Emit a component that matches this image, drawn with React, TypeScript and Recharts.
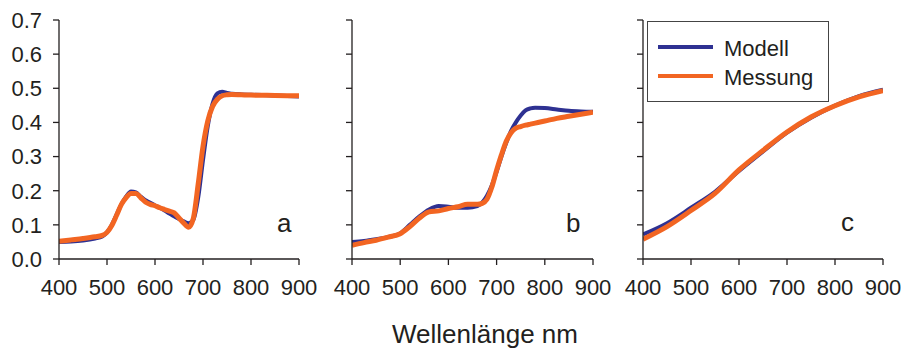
import React from "react";
import { LineChart, Line, XAxis, YAxis, Legend } from "recharts";

// wavelengths (nm) per panel
const wavelengthA = [400, 425, 450, 475, 490, 500, 510, 520, 530, 540, 550, 560, 570, 580, 590, 600, 610, 620, 630, 640, 650, 660, 670, 680, 690, 700, 710, 720, 730, 740, 750, 760, 780, 800, 850, 900];
const modellA = [0.05, 0.051, 0.054, 0.06, 0.066, 0.078, 0.1, 0.13, 0.16, 0.183, 0.198, 0.195, 0.183, 0.172, 0.165, 0.157, 0.15, 0.142, 0.133, 0.125, 0.117, 0.11, 0.105, 0.115, 0.18, 0.29, 0.39, 0.455, 0.485, 0.49, 0.486, 0.484, 0.482, 0.481, 0.479, 0.476];
const messungA = [0.052, 0.056, 0.06, 0.065, 0.069, 0.078, 0.098, 0.128, 0.16, 0.18, 0.192, 0.192, 0.18, 0.167, 0.16, 0.156, 0.15, 0.145, 0.14, 0.135, 0.12, 0.105, 0.093, 0.12, 0.22, 0.33, 0.405, 0.447, 0.468, 0.478, 0.481, 0.482, 0.481, 0.48, 0.479, 0.478];

const wavelengthB = [400, 425, 450, 475, 500, 520, 540, 560, 580, 600, 620, 640, 660, 670, 680, 690, 700, 710, 720, 730, 740, 750, 760, 770, 780, 800, 825, 850, 875, 900];
const modellB = [0.05, 0.053, 0.058, 0.064, 0.075, 0.1, 0.125, 0.145, 0.155, 0.153, 0.15, 0.15, 0.155, 0.165, 0.185, 0.215, 0.255, 0.3, 0.34, 0.375, 0.4, 0.42, 0.435, 0.441, 0.443, 0.442, 0.438, 0.434, 0.432, 0.431];
const messungB = [0.04, 0.048, 0.055, 0.064, 0.074, 0.095, 0.12, 0.138, 0.141, 0.148, 0.153, 0.16, 0.16, 0.163, 0.175, 0.21, 0.26, 0.305, 0.345, 0.37, 0.383, 0.388, 0.392, 0.395, 0.398, 0.404, 0.412, 0.418, 0.424, 0.43];

const wavelengthC = [400, 450, 500, 550, 600, 650, 700, 750, 800, 850, 900];
const modellC = [0.072, 0.105, 0.15, 0.197, 0.258, 0.315, 0.37, 0.414, 0.449, 0.477, 0.496];
const messungC = [0.058, 0.095, 0.142, 0.192, 0.261, 0.318, 0.372, 0.416, 0.449, 0.475, 0.493];

const xTicks = [400, 500, 600, 700, 800, 900];
const yTicks = [0, 0.1, 0.2, 0.3, 0.4, 0.5, 0.6, 0.7];
const seriesNames = ["Modell", "Messung"];
const panelLetters = ["a", "b", "c"];

const BLUE = "#2e3192";
const ORANGE = "#f26522";
const INK = "#231f20";
const FONT = "Arial, 'Liberation Sans', Helvetica, sans-serif";

const toPoints = (xs: number[], ys: number[]) => xs.map((x, i) => ({ x, y: ys[i] }));

const renderLegend = () => (
  <svg width={182} height={81} style={{ display: "block" }}>
    <rect x={0.5} y={0.5} width={181} height={80} fill="#fff" stroke="#444" strokeWidth={1} />
    <line x1={11} x2={66} y1={26} y2={26} stroke={BLUE} strokeWidth={4} />
    <line x1={11} x2={66} y1={55} y2={55} stroke={ORANGE} strokeWidth={4} />
    <text x={77} y={35} fontSize={22} fill={INK} fontFamily={FONT}>{seriesNames[0]}</text>
    <text x={77} y={64} fontSize={22} fill={INK} fontFamily={FONT}>{seriesNames[1]}</text>
  </svg>
);

type PanelProps = {
  left: number;
  width: number;
  axisWidth: number;
  rightMargin: number;
  modell: { x: number; y: number }[];
  messung: { x: number; y: number }[];
  showYLabels: boolean;
  showLegend?: boolean;
};

const Panel: React.FC<PanelProps> = ({ left, width, axisWidth, rightMargin, modell, messung, showYLabels, showLegend }) => (
  <div style={{ position: "absolute", left, top: 0 }}>
    <LineChart width={width} height={299} margin={{ top: 20, right: rightMargin, bottom: 0, left: 0 }}>
      <XAxis
        dataKey="x"
        type="number"
        domain={[400, 900]}
        ticks={xTicks}
        allowDataOverflow
        height={40}
        tickSize={6}
        tickMargin={14}
        stroke={INK}
        strokeWidth={1.3}
        tick={{ fontSize: 22, fill: INK, fontFamily: FONT }}
      />
      <YAxis
        type="number"
        domain={[0, 0.7]}
        ticks={yTicks}
        width={axisWidth}
        tickSize={6}
        tickMargin={11}
        stroke={INK}
        strokeWidth={1.3}
        tickFormatter={(v: number) => (showYLabels ? v.toFixed(1) : "")}
        tick={{ fontSize: 22, fill: INK, fontFamily: FONT }}
      />
      {showLegend && (
        <Legend
          layout="vertical"
          align="center"
          verticalAlign="middle"
          content={renderLegend}
          wrapperStyle={{ left: 47, top: 21, width: 182, height: 81 }}
        />
      )}
      <Line data={modell} dataKey="y" name={seriesNames[0]} type="monotone" stroke={BLUE} strokeWidth={4} dot={false} isAnimationActive={false} />
      <Line data={messung} dataKey="y" name={seriesNames[1]} type="monotone" stroke={ORANGE} strokeWidth={5} dot={false} isAnimationActive={false} />
    </LineChart>
  </div>
);

export default function App() {
  return (
    <div style={{ position: "absolute", left: 0, top: 0, width: 905, height: 349, background: "#fff", overflow: "hidden" }}>
      <Panel left={0} width={320} axisWidth={59} rightMargin={21} modell={toPoints(wavelengthA, modellA)} messung={toPoints(wavelengthA, messungA)} showYLabels />
      <Panel left={300} width={315} axisWidth={52} rightMargin={22} modell={toPoints(wavelengthB, modellB)} messung={toPoints(wavelengthB, messungB)} showYLabels={false} />
      <Panel left={600} width={305} axisWidth={43} rightMargin={22} modell={toPoints(wavelengthC, modellC)} messung={toPoints(wavelengthC, messungC)} showYLabels={false} showLegend />
      <svg width={905} height={349} style={{ position: "absolute", left: 0, top: 0, pointerEvents: "none" }}>
        <text x={277} y={232} fontSize={26} fill={INK} fontFamily={FONT}>{panelLetters[0]}</text>
        <text x={566} y={232} fontSize={26} fill={INK} fontFamily={FONT}>{panelLetters[1]}</text>
        <text x={841} y={231} fontSize={26} fill={INK} fontFamily={FONT}>{panelLetters[2]}</text>
        <text x={485} y={343} textAnchor="middle" fontSize={26} fill={INK} fontFamily={FONT}>Wellenlänge nm</text>
      </svg>
    </div>
  );
}
